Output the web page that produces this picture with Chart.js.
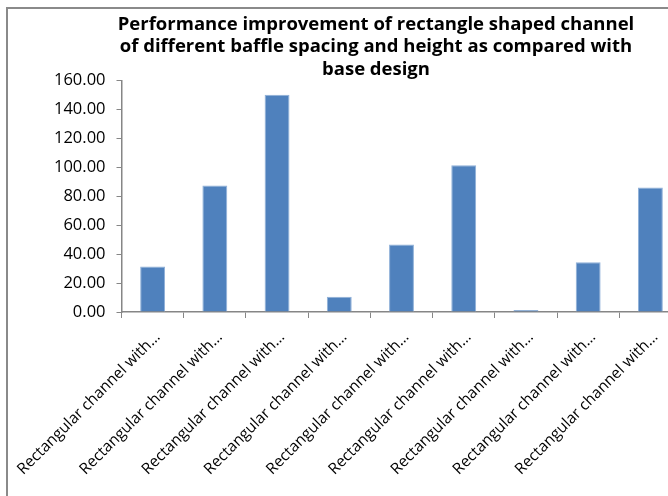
<!DOCTYPE html>
<html>
<head>
<meta charset="utf-8">
<script src="https://cdn.jsdelivr.net/npm/chart.js@4"></script>
<style>
  html, body { margin: 0; padding: 0; background: #fff; overflow: hidden; }
  body { width: 668px; height: 496px; position: relative; }
  #frame {
    position: absolute; left: 6px; top: 7px;
    width: 760px; height: 540px;
    border: 2px solid #8a8a8a;
  }
  #wrap { position: absolute; left: 8px; top: 9px; width: 736px; height: 487px; }
</style>
</head>
<body>
<div id="frame"></div>
<div id="wrap"><canvas id="c" width="736" height="487"></canvas></div>
<script>
// --- data ---
const categories = [
    'Rectangular channel with…',
    'Rectangular channel with…',
    'Rectangular channel with…',
    'Rectangular channel with…',
    'Rectangular channel with…',
    'Rectangular channel with…',
    'Rectangular channel with…',
    'Rectangular channel with…',
    'Rectangular channel with…'
];
const improvement = [31.5, 87.5, 150.3, 10.6, 46.7, 101.5, 1.4, 34.5, 86.2];
const yTicks = [0, 20, 40, 60, 80, 100, 120, 140, 160];
const titleLines = [
    'Performance improvement of rectangle shaped channel',
    'of different baffle spacing and height as compared with',
    'base design'
];

const AXIS_GREY = '#868686';
const BAR_BLUE = '#4F81BD';

Chart.defaults.font.family = '"Open Sans"';
Chart.defaults.color = '#000000';

// centre the title on the whole canvas, not only on the padded box
const wideTitle = {
    id: 'wideTitle',
    afterLayout(chart) {
        if (chart.titleBlock) {
            chart.titleBlock.left = 0;
            chart.titleBlock.right = chart.width;
        }
    }
};

new Chart(document.getElementById('c').getContext('2d'), {
    type: 'bar',
    data: {
        labels: categories,
        datasets: [{
            data: improvement,
            backgroundColor: BAR_BLUE,
            borderColor: '#8fb0d8',
            borderWidth: 1,
            categoryPercentage: 1,
            barPercentage: 0.4
        }]
    },
    options: {
        responsive: false,
        animation: false,
        layout: { padding: { left: 0, right: 62.5, top: 0, bottom: 0 } },
        plugins: {
            legend: { display: false },
            tooltip: { enabled: false },
            title: {
                display: true,
                text: titleLines,
                color: '#000000',
                font: { size: 18.5, weight: 'bold', lineHeight: 1.22 },
                padding: { top: 4, bottom: 0 }
            }
        },
        scales: {
            x: {
                grid: {
                    offset: true,
                    drawOnChartArea: false,
                    drawTicks: true,
                    tickLength: 6,
                    color: AXIS_GREY
                },
                border: { color: AXIS_GREY, width: 1.5 },
                ticks: {
                    autoSkip: false,
                    minRotation: 45,
                    maxRotation: 45,
                    padding: 10,
                    labelOffset: 5,
                    font: { size: 15.5 }
                },
                // rotated labels may hang past the left edge, don't let them move the plot
                afterFit: s => {
                    s.height = 184;
                    s.paddingLeft = 0;
                    s.paddingRight = 0;
                }
            },
            y: {
                min: 0,
                max: 160,
                afterBuildTicks: s => { s.ticks = yTicks.map(v => ({ value: v })); },
                grid: {
                    drawOnChartArea: false,
                    drawTicks: true,
                    tickLength: 5,
                    color: AXIS_GREY
                },
                border: { color: AXIS_GREY, width: 1.5 },
                ticks: {
                    padding: 11,
                    font: { size: 16.5 },
                    callback: v => Number(v).toFixed(2)
                },
                afterFit: s => { s.width = 113.5; }
            }
        }
    },
    plugins: [wideTitle]
});
</script>
</body>
</html>
